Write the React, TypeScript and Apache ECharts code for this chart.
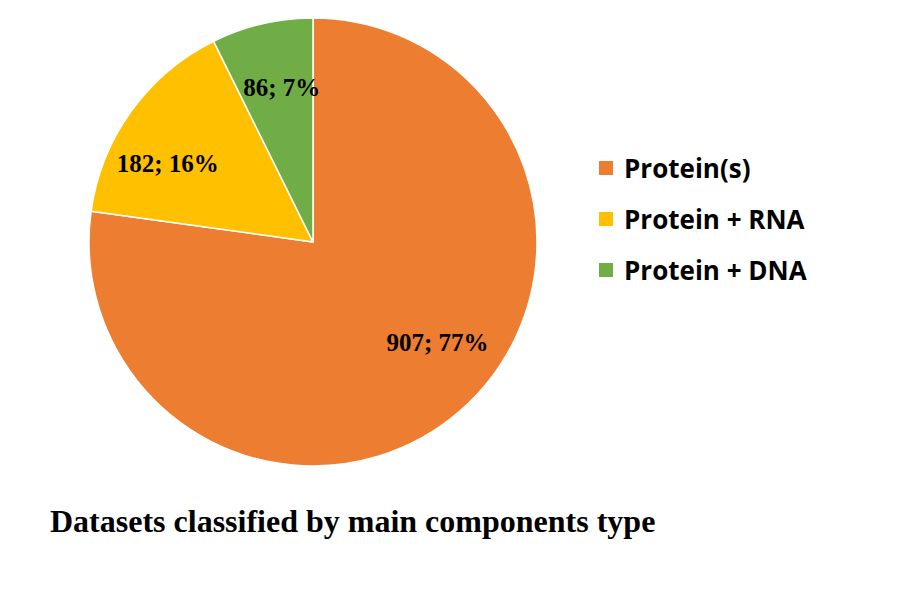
import React, { useEffect, useRef } from "react";
import * as echarts from "echarts";

const categories = ["Protein(s)", "Protein + RNA", "Protein + DNA"];
const values = [907, 182, 86];
const percents = ["77%", "16%", "7%"];
const colors = ["#ED7D31", "#FFC000", "#70AD47"];
const labelOffsets: [number, number][] = [[49, 14], [-52, -11], [-5, -43]];

export default function App() {
  const ref = useRef<HTMLDivElement>(null);
  useEffect(() => {
    if (!ref.current) return;
    const chart = echarts.init(ref.current, null, { renderer: "svg" });
    chart.setOption({
      animation: false,
      backgroundColor: "#ffffff",
      title: {
        text: "Datasets classified by main components type",
        left: 45,
        top: 500,
        textStyle: {
          fontFamily: "Liberation Serif",
          fontWeight: "bold",
          fontSize: 32,
          color: "#000000",
        },
      },
      legend: {
        orient: "vertical",
        left: 592,
        top: 150,
        itemWidth: 16,
        itemHeight: 16,
        itemGap: 25,
        icon: "rect",
        data: categories,
        textStyle: {
          fontFamily: "Open Sans",
          fontWeight: "bold",
          fontSize: 26,
          lineHeight: 26,
          color: "#000000",
          padding: [0, 0, 0, 5],
        },
      },
      series: [
        {
          type: "pie",
          center: [313, 242],
          radius: [0, 224],
          startAngle: 90,
          clockwise: true,
          itemStyle: { borderColor: "#ffffff", borderWidth: 1.5 },
          label: {
            show: true,
            position: "inside",
            fontFamily: "Liberation Serif",
            fontWeight: "bold",
            fontSize: 25,
            color: "#000000",
          },
          labelLine: { show: false },
          data: categories.map((name, i) => ({
            name,
            value: values[i],
            itemStyle: { color: colors[i] },
            label: {
              formatter: `${values[i]}; ${percents[i]}`,
              offset: labelOffsets[i],
            },
          })),
        },
      ],
    });
    return () => chart.dispose();
  }, []);
  return (
    <div
      ref={ref}
      style={{ position: "fixed", left: 0, top: 0, width: 900, height: 600 }}
    />
  );
}
